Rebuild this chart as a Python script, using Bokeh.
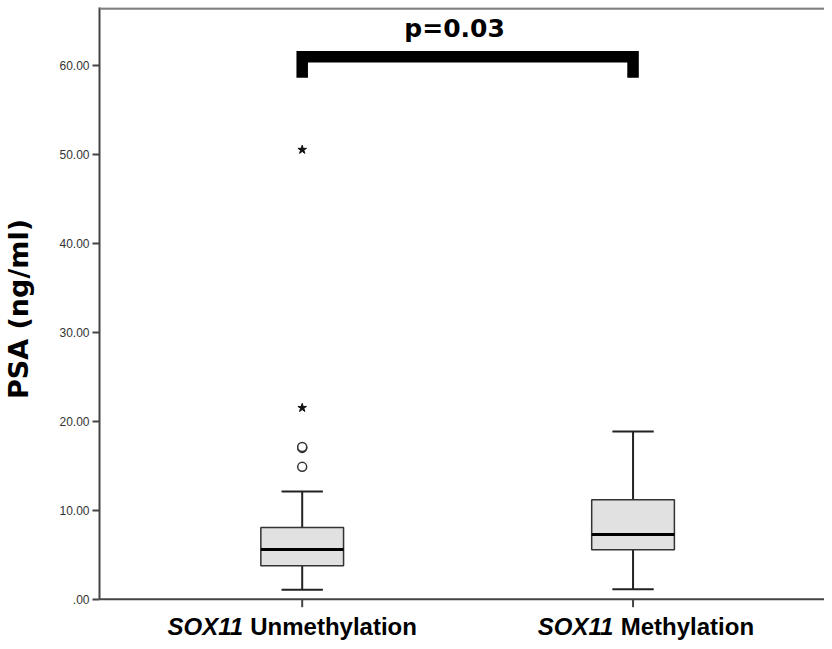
from bokeh.plotting import figure
from bokeh.models import FixedTicker, Range1d, Label, Span
from bokeh.layouts import column
from bokeh.embed import file_html
from bokeh.resources import INLINE

# ---- data ----
gene = "SOX11"
group_names = ["Unmethylation", "Methylation"]
group_pos = [1, 2]
q1 = [3.75, 5.55]
median = [5.58, 7.27]
q3 = [8.05, 11.17]
whisker_low = [1.05, 1.12]
whisker_high = [12.1, 18.84]
outlier_group = [1, 1, 1]
outlier_values = [14.87, 17.0, 17.1]
extreme_group = [1, 1]
extreme_values = [21.5, 50.5]
y_ticks = [0, 10, 20, 30, 40, 50, 60]
y_tick_labels = [".00", "10.00", "20.00", "30.00", "40.00", "50.00", "60.00"]
y_title = "PSA (ng/ml)"
p_text = "p=0.03"
bracket_top = 60.95
bracket_leg_end = 58.6

# ---- styling / layout constants ----
BOX_W = 0.25
CAP_W = 0.125
PX_PER_UNIT = 8.9
Y_END = 66.48
Y_START = -1.27
X_START, X_END = 0.3873, 2.5787

p = figure(width=824, height=610, output_backend="svg", toolbar_location=None,
           x_range=Range1d(X_START, X_END), y_range=Range1d(Y_START, Y_END),
           min_border_left=98, min_border_right=0, min_border_top=7, min_border_bottom=0)
p.outline_line_color = None
p.grid.visible = False
p.background_fill_color = "white"
p.border_fill_color = "white"
p.xaxis.visible = False

# y axis
p.yaxis.bounds = (0, Y_END)
p.yaxis.ticker = FixedTicker(ticks=y_ticks)
p.yaxis.major_label_overrides = {t: l for t, l in zip(y_ticks, y_tick_labels)}
p.yaxis.major_label_text_font = "Liberation Sans"
p.yaxis.major_label_text_font_size = "12px"
p.yaxis.major_label_text_color = "#333333"
p.yaxis.major_label_standoff = 3
p.yaxis.major_tick_out = 7
p.yaxis.major_tick_in = 0
p.yaxis.major_tick_line_width = 2
p.yaxis.major_tick_line_color = "#444444"
p.yaxis.minor_tick_line_color = None
p.yaxis.axis_line_width = 2
p.yaxis.axis_line_color = "#444444"
p.yaxis.axis_label = y_title
p.yaxis.axis_label_text_font = "DejaVu Sans"
p.yaxis.axis_label_text_font_style = "bold"
p.yaxis.axis_label_text_font_size = "27px"
p.yaxis.axis_label_text_color = "black"
p.yaxis.axis_label_standoff = 22

# x axis line at zero, with outward category ticks
p.add_layout(Span(location=0, dimension="width", line_color="#444444", line_width=2))
p.segment(x0=group_pos, y0=[0] * len(group_pos), x1=group_pos,
          y1=[-8 / PX_PER_UNIT] * len(group_pos), line_color="#444444", line_width=2)
# top border
p.add_layout(Span(location=Y_END - 0.12, dimension="width", line_color="#808080", line_width=2.5))

# whiskers
p.segment(x0=group_pos, y0=q3, x1=group_pos, y1=whisker_high, line_color="#222222", line_width=2)
p.segment(x0=group_pos, y0=q1, x1=group_pos, y1=whisker_low, line_color="#222222", line_width=2)
p.segment(x0=[g - CAP_W / 2 for g in group_pos], y0=whisker_high,
          x1=[g + CAP_W / 2 for g in group_pos], y1=whisker_high, line_color="#222222", line_width=2)
p.segment(x0=[g - CAP_W / 2 for g in group_pos], y0=whisker_low,
          x1=[g + CAP_W / 2 for g in group_pos], y1=whisker_low, line_color="#222222", line_width=2)

# boxes
p.vbar(x=group_pos, bottom=q1, top=q3, width=BOX_W, fill_color="#e1e1e1",
       line_color="#333333", line_width=1.5)
p.segment(x0=[g - BOX_W / 2 for g in group_pos], y0=median,
          x1=[g + BOX_W / 2 for g in group_pos], y1=median, line_color="black", line_width=3)

# outliers
p.scatter(x=outlier_group, y=outlier_values, marker="circle", size=9,
          fill_color="white", line_color="#333333", line_width=1.5)
p.scatter(x=extreme_group, y=extreme_values, marker="star", size=9,
          fill_color="#111111", line_color="#111111", line_width=1)

# significance bracket
p.line(x=[group_pos[0], group_pos[0], group_pos[1], group_pos[1]],
       y=[bracket_leg_end, bracket_top, bracket_top, bracket_leg_end],
       line_color="black", line_width=11.5, line_join="miter", line_cap="butt")
p.add_layout(Label(x=(group_pos[0] + group_pos[1]) / 2, y=64.1, x_offset=-13, text=p_text,
                   text_align="center", text_baseline="alphabetic",
                   text_font="DejaVu Sans", text_font_style="bold",
                   text_font_size="25px", text_color="black"))

# ---- strip below the axis: category labels (y in pixels) ----
q = figure(width=824, height=31, output_backend="svg", toolbar_location=None,
           x_range=p.x_range, y_range=Range1d(0, 31),
           min_border_left=98, min_border_right=0, min_border_top=0, min_border_bottom=0)
q.outline_line_color = None
q.grid.visible = False
q.axis.visible = False
q.background_fill_color = "white"
q.border_fill_color = "white"

gene_offsets = [-59, -19.6]
rest_offsets = [-52, -12.3]
for g, name, go, ro in zip(group_pos, group_names, gene_offsets, rest_offsets):
    q.add_layout(Label(x=g, y=15, x_offset=go, text=gene, text_align="right",
                       text_baseline="alphabetic", text_font="Liberation Sans",
                       text_font_style="bold italic", text_font_size="24px", text_color="black"))
    q.add_layout(Label(x=g, y=15, x_offset=ro, text=name, text_align="left",
                       text_baseline="alphabetic", text_font="Liberation Sans",
                       text_font_style="bold", text_font_size="24px", text_color="black"))

layout = column(p, q, spacing=0)
open("out.html", "w").write(file_html(layout, INLINE))
